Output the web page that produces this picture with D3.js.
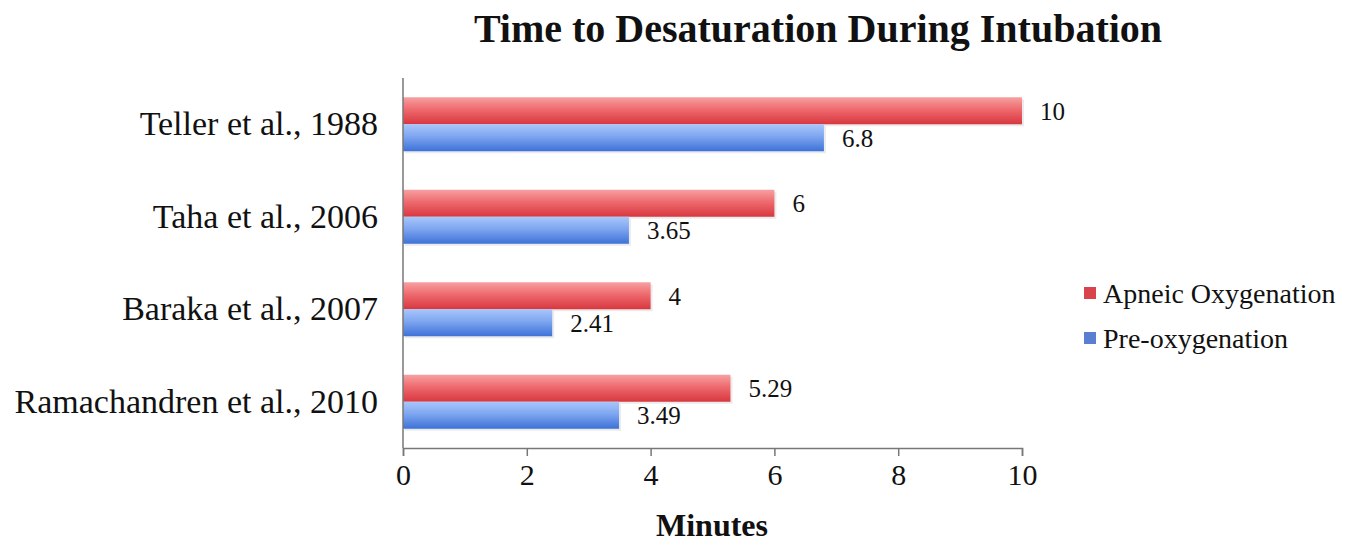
<!DOCTYPE html>
<html><head><meta charset="utf-8">
<script src="https://cdn.jsdelivr.net/npm/d3@7"></script>
<style>body{margin:0;background:#fff}svg{display:block}text{font-family:"Liberation Serif","Times New Roman",serif;fill:#111}</style>
</head><body>
<script>
const categories = ["Teller et al., 1988","Taha et al., 2006","Baraka et al., 2007","Ramachandren et al., 2010"];
const seriesNames = ["Apneic Oxygenation","Pre-oxygenation"];
const apneic = [10, 6, 4, 5.29];
const preox = [6.8, 3.65, 2.41, 3.49];
const apneicLabels = ["10","6","4","5.29"];
const preoxLabels = ["6.8","3.65","2.41","3.49"];
const xTicks = [0,2,4,6,8,10];

const W=1351,H=545;
const svg=d3.select("body").append("svg").attr("width",W).attr("height",H);
const defs=svg.append("defs");
function grad(id,c1,c2,c3){const g=defs.append("linearGradient").attr("id",id).attr("x1",0).attr("y1",0).attr("x2",0).attr("y2",1);
g.append("stop").attr("offset","0%").attr("stop-color",c1);g.append("stop").attr("offset","45%").attr("stop-color",c2);g.append("stop").attr("offset","100%").attr("stop-color",c3);}
grad("gr","#f7a0a2","#ee6a6e","#d8373f");
grad("gb","#a9c6fb","#7ea6f0","#3e72d8");
const colors=["url(#gr)","url(#gb)"];
const legendColors=["#d9434c","#5a7fd0"];

const x=d3.scaleLinear().domain([0,10]).range([403,1022]);
const y=d3.scaleBand().domain(categories).range([78,448]);
const yi=d3.scaleBand().domain(seriesNames).range([0,54]);
const bh=yi.bandwidth();

const data=categories.map((c,i)=>({c,vals:[apneic[i],preox[i]],labs:[apneicLabels[i],preoxLabels[i]]}));
const g=svg.append("g");
data.forEach(d=>{
  const y0=y(d.c)+y.bandwidth()/2-27;
  seriesNames.forEach((s,j)=>{
    const yy=y0+yi(s);
    g.append("rect").attr("x",x(0)+2).attr("y",yy+2).attr("width",x(d.vals[j])-x(0)).attr("height",bh).attr("fill","#000").attr("opacity",0.08);
    g.append("rect").attr("x",x(0)).attr("y",yy).attr("width",x(d.vals[j])-x(0)).attr("height",bh).attr("fill",colors[j]);
    g.append("text").attr("x",x(d.vals[j])+18).attr("y",yy+bh/2).attr("dy","0.35em").attr("font-size",25).text(d.labs[j]);
  });
});

const xa=svg.append("g").attr("transform","translate(0,448)").call(d3.axisBottom(x).tickValues(xTicks).tickSize(8).tickPadding(8).tickFormat(d3.format("d")));
xa.select(".domain").attr("stroke","#777").attr("stroke-width",1.5);
xa.selectAll(".tick line").attr("stroke","#777").attr("stroke-width",1.5);
xa.selectAll("text").attr("font-size",30).attr("font-family","Liberation Serif").attr("fill","#111");

const ya=svg.append("g").attr("transform","translate(403,0)").call(d3.axisLeft(y).tickSize(0).tickPadding(25));
ya.select(".domain").attr("stroke","#777").attr("stroke-width",1.5).attr("d","M0,78V448");
ya.selectAll("text").attr("font-size",34).attr("font-family","Liberation Serif").attr("fill","#111");

svg.append("text").attr("x",818).attr("y",42).attr("text-anchor","middle").attr("font-size",40).attr("font-weight","bold").text("Time to Desaturation During Intubation");
svg.append("text").attr("x",712).attr("y",536).attr("text-anchor","middle").attr("font-size",32).attr("font-weight","bold").text("Minutes");

const lg=svg.append("g");
seriesNames.forEach((s,i)=>{
  const yy=293+i*45;
  lg.append("rect").attr("x",1084).attr("y",yy-6).attr("width",12).attr("height",12).attr("fill",legendColors[i]);
  lg.append("text").attr("x",1103).attr("y",yy).attr("dy","0.35em").attr("font-size",28).text(s);
});
</script>
</body></html>
